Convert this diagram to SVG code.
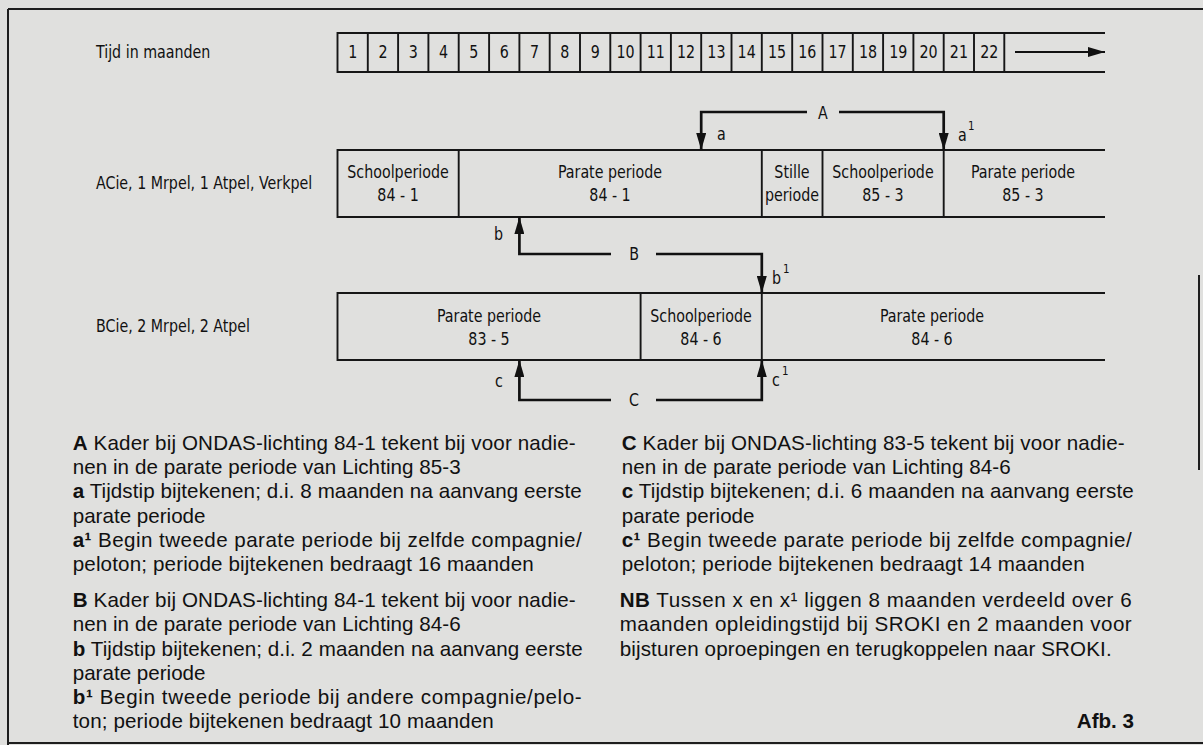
<svg xmlns="http://www.w3.org/2000/svg" width="1203" height="745" viewBox="0 0 1203 745">
<defs>
<style>
.bg{fill:#e0e0de}
.frame{fill:none;stroke:#1e1e1e;stroke-width:2}
.box{fill:none;stroke:#161616;stroke-width:1.9}
.conn{fill:none;stroke:#111;stroke-width:2.7}
.d{font-family:"DejaVu Sans Condensed","DejaVu Sans",sans-serif;font-size:18px;fill:#111;transform:scale(0.88,1)}
.dc{text-anchor:middle}
.sup{font-family:"DejaVu Sans Condensed","DejaVu Sans",sans-serif;font-size:13px;fill:#111;transform:scale(0.88,1)}
.t{font-family:"Liberation Sans",Arial,sans-serif;font-size:20.6px;fill:#111}
.b{font-weight:bold}
</style>
<marker id="ah" markerUnits="userSpaceOnUse" markerWidth="17" markerHeight="10" refX="17" refY="5" orient="auto">
<path d="M0,0 L17,5 L0,10 Z" fill="#111"/>
</marker>
</defs>
<rect class="bg" x="0" y="0" width="1203" height="745"/>
<g id="frame">
<path class="frame" d="M8,9 H1203 M8,9 V745 M8,743 H1203 M1199,275 V470"/>
</g>
<g id="timeline">
<path class="box" d="M1105,33 H337.5 V72 H1105"/>
<path class="box" d="M367.8,33V72 M398.1,33V72 M428.4,33V72 M458.7,33V72 M489.1,33V72 M519.4,33V72 M549.7,33V72 M580,33V72 M610.3,33V72 M640.6,33V72 M670.9,33V72 M701.2,33V72 M731.5,33V72 M761.8,33V72 M792.2,33V72 M822.5,33V72 M852.8,33V72 M883.1,33V72 M913.4,33V72 M943.7,33V72 M974,33V72 M1004.3,33V72"/>
<line x1="1015" y1="52" x2="1105" y2="52" stroke="#111" stroke-width="1.9" marker-end="url(#ah)"/>
<text class="d" x="109.1" y="58.5">Tijd in maanden</text>
<g>
<text class="d dc" x="400.8" y="58.5">1</text><text class="d dc" x="435.2" y="58.5">2</text><text class="d dc" x="469.7" y="58.5">3</text><text class="d dc" x="504.1" y="58.5">4</text><text class="d dc" x="538.5" y="58.5">5</text><text class="d dc" x="573" y="58.5">6</text><text class="d dc" x="607.4" y="58.5">7</text><text class="d dc" x="641.8" y="58.5">8</text><text class="d dc" x="676.4" y="58.5">9</text><text class="d dc" x="710.8" y="58.5">10</text><text class="d dc" x="745.2" y="58.5">11</text><text class="d dc" x="779.7" y="58.5">12</text><text class="d dc" x="814.1" y="58.5">13</text><text class="d dc" x="848.5" y="58.5">14</text><text class="d dc" x="883" y="58.5">15</text><text class="d dc" x="917.4" y="58.5">16</text><text class="d dc" x="951.8" y="58.5">17</text><text class="d dc" x="986.3" y="58.5">18</text><text class="d dc" x="1020.7" y="58.5">19</text><text class="d dc" x="1055.2" y="58.5">20</text><text class="d dc" x="1089.7" y="58.5">21</text><text class="d dc" x="1124.1" y="58.5">22</text>
</g>
</g>
<g id="row-acie">
<text class="d" x="109.1" y="189.5">ACie, 1 Mrpel, 1 Atpel, Verkpel</text>
<path class="box" d="M1105,150 H337.5 V217 H1105"/>
<g id="acie-school-84-1"><path class="box" d="M458.7,150V217"/><text class="d dc" x="452.3" y="178.5">Schoolperiode</text><text class="d dc" x="452.3" y="201.5">84 - 1</text></g>
<g id="acie-parate-84-1"><path class="box" d="M761.8,150V217"/><text class="d dc" x="693.2" y="178.5">Parate periode</text><text class="d dc" x="693.2" y="201.5">84 - 1</text></g>
<g id="acie-stille"><path class="box" d="M822.5,150V217"/><text class="d dc" x="900" y="178.5">Stille</text><text class="d dc" x="900" y="201.5">periode</text></g>
<g id="acie-school-85-3"><path class="box" d="M943.7,150V217"/><text class="d dc" x="1003.4" y="178.5">Schoolperiode</text><text class="d dc" x="1003.4" y="201.5">85 - 3</text></g>
<g id="acie-parate-85-3"><text class="d dc" x="1162.5" y="178.5">Parate periode</text><text class="d dc" x="1162.5" y="201.5">85 - 3</text></g>
</g>
<g id="row-bcie">
<text class="d" x="109.1" y="332.5">BCie, 2 Mrpel, 2 Atpel</text>
<path class="box" d="M1105,293 H337.5 V360 H1105"/>
<g id="bcie-parate-83-5"><path class="box" d="M640.6,293V360"/><text class="d dc" x="555.7" y="322.5">Parate periode</text><text class="d dc" x="555.7" y="345.5">83 - 5</text></g>
<g id="bcie-school-84-6"><path class="box" d="M761.8,293V360"/><text class="d dc" x="796.6" y="322.5">Schoolperiode</text><text class="d dc" x="796.6" y="345.5">84 - 6</text></g>
<g id="bcie-parate-84-6"><text class="d dc" x="1059.1" y="322.5">Parate periode</text><text class="d dc" x="1059.1" y="345.5">84 - 6</text></g>
</g>
<g id="connectors">
<path class="conn" d="M807,112 H701.2 V150" marker-end="url(#ah)"/>
<path class="conn" d="M839,112 H943.7 V150" marker-end="url(#ah)"/>
<path class="conn" d="M611,254 H519.4 V217" marker-end="url(#ah)"/>
<path class="conn" d="M656,254 H761.8 V293" marker-end="url(#ah)"/>
<path class="conn" d="M611,400 H519.4 V360" marker-end="url(#ah)"/>
<path class="conn" d="M656,400 H761.8 V360" marker-end="url(#ah)"/>
<text class="d dc" x="935.2" y="119.5">A</text>
<text class="d dc" x="720.5" y="260.5">B</text>
<text class="d dc" x="720.5" y="406.5">C</text>
<text class="d" x="814.8" y="140">a</text>
<text class="d" x="1088.6" y="141">a</text><text class="sup" x="1100" y="130">1</text>
<text class="d" x="561.4" y="240">b</text>
<text class="d" x="877.3" y="284">b</text><text class="sup" x="889.8" y="273">1</text>
<text class="d" x="562.5" y="387">c</text>
<text class="d" x="877.3" y="386">c</text><text class="sup" x="888.6" y="375">1</text>
</g>
<g id="legend-left" class="t">
<text x="72.7" y="450" textLength="503" lengthAdjust="spacing"><tspan class="b">A</tspan> Kader bij ONDAS-lichting 84-1 tekent bij voor nadie-</text>
<text x="72.7" y="474.2" textLength="388" lengthAdjust="spacing">nen in de parate periode van Lichting 85-3</text>
<text x="72.7" y="498.3" textLength="509" lengthAdjust="spacing"><tspan class="b">a</tspan> Tijdstip bijtekenen; d.i. 8 maanden na aanvang eerste</text>
<text x="72.7" y="522.5">parate periode</text>
<text x="72.7" y="546.7" textLength="509" lengthAdjust="spacing"><tspan class="b">a¹</tspan> Begin tweede parate periode bij zelfde compagnie/</text>
<text x="72.7" y="570.9" textLength="461" lengthAdjust="spacing">peloton; periode bijtekenen bedraagt 16 maanden</text>
<text x="72.7" y="607.1" textLength="503" lengthAdjust="spacing"><tspan class="b">B</tspan> Kader bij ONDAS-lichting 84-1 tekent bij voor nadie-</text>
<text x="72.7" y="631.3" textLength="388" lengthAdjust="spacing">nen in de parate periode van Lichting 84-6</text>
<text x="72.7" y="655.5" textLength="510" lengthAdjust="spacing"><tspan class="b">b</tspan> Tijdstip bijtekenen; d.i. 2 maanden na aanvang eerste</text>
<text x="72.7" y="679.7">parate periode</text>
<text x="72.7" y="703.8" textLength="509" lengthAdjust="spacing"><tspan class="b">b¹</tspan> Begin tweede periode bij andere compagnie/pelo-</text>
<text x="72.7" y="728" textLength="421" lengthAdjust="spacing">ton; periode bijtekenen bedraagt 10 maanden</text>
</g>
<g id="legend-right" class="t">
<text x="621.7" y="450" textLength="503" lengthAdjust="spacing"><tspan class="b">C</tspan> Kader bij ONDAS-lichting 83-5 tekent bij voor nadie-</text>
<text x="621.7" y="474.2" textLength="389" lengthAdjust="spacing">nen in de parate periode van Lichting 84-6</text>
<text x="621.7" y="498.3" textLength="512" lengthAdjust="spacing"><tspan class="b">c</tspan> Tijdstip bijtekenen; d.i. 6 maanden na aanvang eerste</text>
<text x="621.7" y="522.5">parate periode</text>
<text x="621.7" y="546.7" textLength="510" lengthAdjust="spacing"><tspan class="b">c¹</tspan> Begin tweede parate periode bij zelfde compagnie/</text>
<text x="621.7" y="570.9" textLength="463" lengthAdjust="spacing">peloton; periode bijtekenen bedraagt 14 maanden</text>
<text x="619.7" y="607.1" textLength="512" lengthAdjust="spacing"><tspan class="b">NB</tspan> Tussen x en x¹ liggen 8 maanden verdeeld over 6</text>
<text x="619.7" y="631.3" textLength="512" lengthAdjust="spacing">maanden opleidingstijd bij SROKI en 2 maanden voor</text>
<text x="619.7" y="655.5" textLength="492" lengthAdjust="spacing">bijsturen oproepingen en terugkoppelen naar SROKI.</text>
<text class="b" x="1134" y="728" text-anchor="end">Afb. 3</text>
</g>
</svg>
